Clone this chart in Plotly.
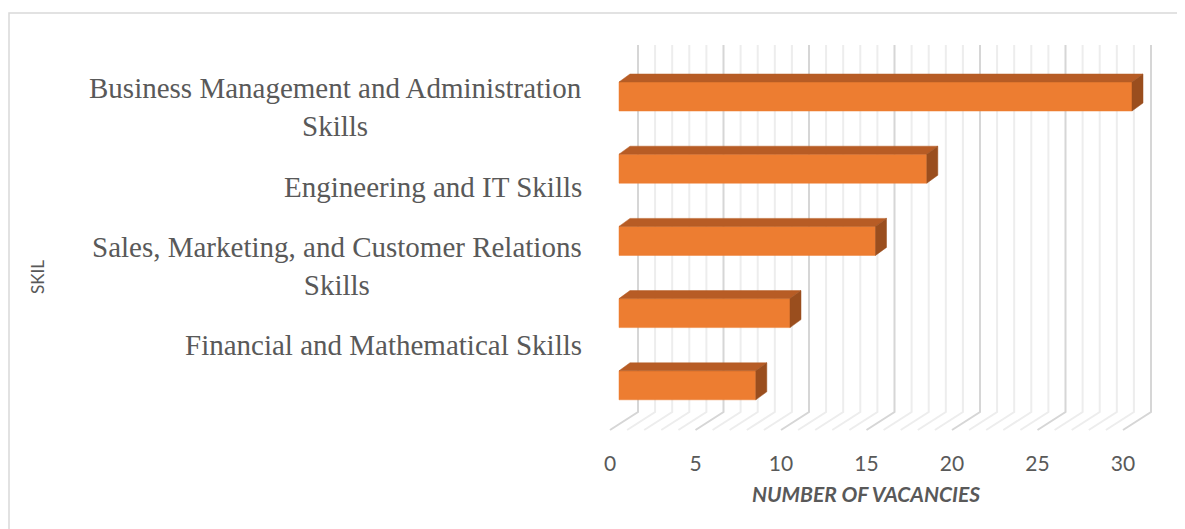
import plotly.graph_objects as go

# ---------------- data ----------------
skill_labels = [
    "Business Management and Administration<br>Skills",
    "Engineering and IT Skills",
    "Sales, Marketing, and Customer Relations<br>Skills",
    "Financial and Mathematical Skills",
]
vacancies = [30, 18, 15, 10, 8]
x_ticks = [0, 5, 10, 15, 20, 25, 30]
x_title = "NUMBER OF VACANCIES"
y_title = "SKIL"

# ---------------- geometry / style ----------------
W, H = 1185, 529
OFF = 8.0                      # page body margin (screen px = figure px + OFF)


def fx(px):  # screen px -> figure px
    return px - OFF


PX0, PPU = fx(610.0), 17.1     # figure pixel of x=0 on the front floor edge, px per unit
PB = fx(449.0)                 # bottom of plot area (figure px)
PY0, PPY = fx(96.5), 72.2      # centre of first bar, px per category step

wall_dx = 28.0 / PPU
floor_back = (fx(412) - PY0) / PPY
floor_front = (fx(430) - PY0) / PPY
grid_top = (fx(45) - PY0) / PPY
bar_shift = 9.0 / PPU
bar_half = 14.5 / PPY
depth_dx = 11.0 / PPU
depth_dy = 8.0 / PPY

FRONT = "#ED7D31"
TOP = "#B75C25"
SIDE = "#9A4E1E"
TXT = "#595959"

fig = go.Figure()

# gridlines on back wall + floor
xmax = x_ticks[-1]
for major in (False, True):
    xs, ys = [], []
    for k in range(0, xmax + 1):
        if (k % 5 == 0) != major:
            continue
        xs += [k + wall_dx, k + wall_dx, k, None]
        ys += [grid_top, floor_back, floor_front, None]
    fig.add_trace(go.Scatter(
        x=xs, y=ys, mode="lines", hoverinfo="skip", showlegend=False,
        line=dict(color="#D6D6D6" if major else "#EDEDED", width=2),
    ))

# 3D bars
for i, v in enumerate(vacancies):
    yt, yb = i - bar_half, i + bar_half
    x0, x1 = bar_shift, bar_shift + v
    fig.add_trace(go.Scatter(  # front face
        x=[x0, x1, x1, x0, x0], y=[yt, yt, yb, yb, yt], fill="toself",
        fillcolor=FRONT, mode="lines", line=dict(color=FRONT, width=0.5),
        hoverinfo="skip", showlegend=False))
    fig.add_trace(go.Scatter(  # top face
        x=[x0, x1, x1 + depth_dx, x0 + depth_dx, x0],
        y=[yt, yt, yt - depth_dy, yt - depth_dy, yt], fill="toself",
        fillcolor=TOP, mode="lines", line=dict(color=TOP, width=0.5),
        hoverinfo="skip", showlegend=False))
    fig.add_trace(go.Scatter(  # side face
        x=[x1, x1 + depth_dx, x1 + depth_dx, x1, x1],
        y=[yt, yt - depth_dy, yb - depth_dy, yb, yt], fill="toself",
        fillcolor=SIDE, mode="lines", line=dict(color=SIDE, width=0.5),
        hoverinfo="skip", showlegend=False))


def paper_y(screen_px):
    return 1 - fx(screen_px) / PB


# category labels
label_off, label_step = 0.152, 1.097
annotations = []
for j, lab in enumerate(skill_labels):
    annotations.append(dict(
        text=lab, xref="paper", yref="y", x=fx(584) / W, y=label_off + j * label_step,
        xanchor="right", yanchor="middle", align="center", showarrow=False,
        font=dict(family="Liberation Serif", size=29, color=TXT)))

annotations.append(dict(
    text=y_title, xref="paper", yref="paper", x=fx(37) / W, y=paper_y(277),
    textangle=-90, showarrow=False, xanchor="center", yanchor="middle",
    font=dict(family="Lato", size=17, color=TXT)))

annotations.append(dict(
    text="<b><i>" + x_title + "</i></b>", xref="paper", yref="paper",
    x=fx(866) / W, y=paper_y(494), xanchor="center", yanchor="middle",
    showarrow=False, font=dict(family="Lato", size=21, color=TXT)))

fig.update_layout(
    width=W, height=H,
    margin=dict(l=0, r=0, t=0, b=H - PB),
    paper_bgcolor="white", plot_bgcolor="white",
    showlegend=False,
    annotations=annotations,
    shapes=[dict(type="rect", xref="paper", yref="paper",
                 x0=fx(9) / W, x1=1.3, y0=-0.6, y1=paper_y(13),
                 line=dict(color="#D9D9D9", width=1.5), fillcolor="rgba(0,0,0,0)")],
    xaxis=dict(
        range=[-PX0 / PPU, (W - PX0) / PPU],
        tickvals=x_ticks, ticktext=[str(t) for t in x_ticks],
        tickfont=dict(family="Lato", size=21, color=TXT),
        showgrid=False, zeroline=False, showline=False, ticks="",
        fixedrange=True,
    ),
    yaxis=dict(
        range=[(PB - PY0) / PPY, (0 - PY0) / PPY],
        visible=False, fixedrange=True,
    ),
)

fig.write_html("out.html")
